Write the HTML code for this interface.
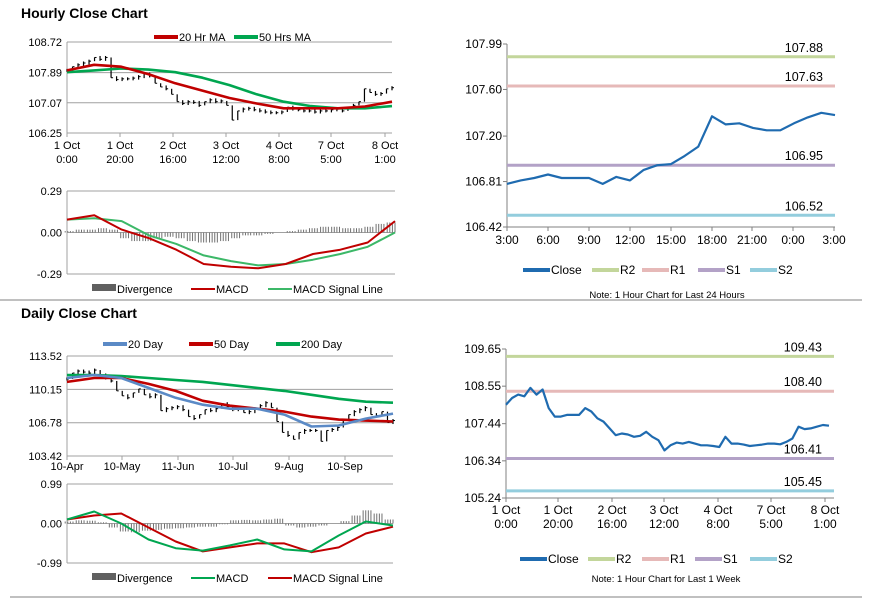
<!DOCTYPE html>
<html><head><meta charset="utf-8"><style>
body{margin:0;background:#fff;width:873px;height:601px;overflow:hidden}
svg{font-family:"Liberation Sans",Arial,sans-serif;}
</style></head><body>
<svg id="c" width="873" height="601"></svg>
<script>
// ---- data ----
const hClose=[107.95,108.05,108.1,108.15,108.2,108.3,108.25,108.3,107.75,107.7,107.72,107.72,107.74,107.78,107.85,107.8,107.6,107.5,107.45,107.3,107.1,107.05,107.1,107.08,107.0,107.1,107.15,107.1,107.12,107.0,106.6,106.85,106.9,106.92,106.88,106.85,106.82,106.8,106.8,106.82,106.95,106.9,106.88,106.85,106.85,106.82,106.85,106.85,106.88,106.9,106.85,106.95,107.0,107.1,107.45,107.35,107.3,107.32,107.45,107.48];
const hMA20=[107.95,108.1,108.05,107.85,107.6,107.4,107.2,107.05,106.92,106.92,106.92,106.97,107.1];
const hMA50=[107.9,107.95,108.0,107.97,107.9,107.75,107.55,107.3,107.1,106.98,106.92,106.92,106.98];
const hYTicks=[108.72,107.89,107.07,106.25];
const hXLabels=[["1 Oct","0:00"],["1 Oct","20:00"],["2 Oct","16:00"],["3 Oct","12:00"],["4 Oct","8:00"],["7 Oct","5:00"],["8 Oct","1:00"]];
const hMacd=[0.09,0.12,0.02,-0.04,-0.12,-0.22,-0.24,-0.25,-0.22,-0.15,-0.12,-0.07,0.08];
const hSignal=[0.09,0.1,0.08,-0.02,-0.08,-0.16,-0.2,-0.23,-0.22,-0.19,-0.15,-0.1,0.0];
const hDiv=[0.01,0.02,0.02,0.03,0.02,-0.04,-0.06,-0.06,-0.04,-0.03,-0.04,-0.06,-0.07,-0.07,-0.06,-0.04,-0.02,-0.02,-0.01,0.0,0.01,0.02,0.03,0.04,0.04,0.03,0.03,0.04,0.06,0.07];
const macdTicksH=[0.29,0.00,-0.29];

const dClose=[111.2,111.8,112.0,111.9,111.8,112.1,111.6,111.3,111.0,110.0,109.5,109.3,109.8,110.2,109.6,109.4,109.6,108.0,108.2,108.3,108.4,108.1,107.4,107.2,107.6,108.1,108.0,108.2,108.7,108.4,108.1,108.2,107.8,107.9,108.2,108.5,108.8,108.3,106.9,105.8,105.5,105.1,105.8,106.0,106.0,106.0,104.9,106.0,106.1,106.3,107.0,107.6,107.9,108.1,108.3,107.6,107.5,107.9,106.8,107.0];
const d20=[111.3,111.6,111.3,110.3,109.3,108.6,108.2,108.2,107.6,106.4,106.5,107.2,107.7];
const d50=[110.9,111.3,111.3,110.7,110.0,109.0,108.5,108.2,107.9,107.4,107.1,107.0,106.9];
const d200=[111.6,111.6,111.5,111.3,111.1,110.9,110.6,110.3,110.0,109.6,109.2,108.9,108.8];
const dYTicks=[113.52,110.15,106.78,103.42];
const dXLabels=["10-Apr","10-May","11-Jun","10-Jul","9-Aug","10-Sep"];
const dMacd=[0.1,0.3,0.0,-0.4,-0.62,-0.68,-0.55,-0.4,-0.65,-0.7,-0.3,0.05,-0.05];
const dSignal=[0.1,0.2,0.25,-0.1,-0.45,-0.7,-0.6,-0.5,-0.5,-0.72,-0.6,-0.25,-0.08];
const dDiv=[0.05,0.08,0.07,0.03,-0.1,-0.2,-0.22,-0.18,-0.16,-0.13,-0.12,-0.1,-0.08,-0.08,-0.02,0.08,0.09,0.08,0.1,0.12,-0.05,-0.1,-0.08,-0.05,0.0,0.06,0.2,0.33,0.25,0.1];
const macdTicksD=[0.99,0.00,-0.99];

const r24Close=[106.79,106.82,106.84,106.87,106.84,106.84,106.84,106.79,106.85,106.82,106.91,106.95,106.96,107.03,107.11,107.37,107.30,107.31,107.27,107.25,107.25,107.31,107.36,107.40,107.38];
const r24Levels=[107.88,107.63,106.95,106.52];
const r24YTicks=[107.99,107.60,107.20,106.81,106.42];
const r24XLabels=["3:00","6:00","9:00","12:00","15:00","18:00","21:00","0:00","3:00"];

const rWClose=[108.0,108.2,108.3,108.25,108.5,108.3,108.45,107.9,107.65,107.65,107.7,107.7,107.7,107.9,107.8,107.6,107.5,107.3,107.1,107.15,107.12,107.05,107.08,107.2,107.05,106.95,106.65,106.8,106.88,106.85,106.9,106.85,106.8,106.8,106.78,106.75,107.05,106.85,106.85,106.82,106.78,106.8,106.82,106.85,106.85,106.83,106.9,107.0,107.35,107.28,107.3,107.35,107.4,107.38];
const rWLevels=[109.43,108.40,106.41,105.45];
const rWYTicks=[109.65,108.55,107.44,106.34,105.24];
const levelNames=["r2","r1","s1","s2"];
const levelColors=["#c3d69b","#e6b9b8","#b3a2c7","#93cddd"];

// ---- helpers ----
const svg=document.getElementById('c');
const NS="http://www.w3.org/2000/svg";
function el(tag,attrs,parent){const e=document.createElementNS(NS,tag);for(const k in attrs)e.setAttribute(k,attrs[k]);(parent||svg).appendChild(e);return e;}
function txt(x,y,s,size,anchor,parent,weight){const t=el('text',{x:x,y:y,'font-size':size,'text-anchor':anchor||'start',fill:'#000'},parent);if(weight)t.setAttribute('font-weight',weight);t.textContent=s;return t;}
function scale(d0,d1,r0,r1){return v=>r0+(v-d0)*(r1-r0)/(d1-d0);}
function xi(n,x0,x1){return i=>x0+i*(x1-x0)/(n-1);}
function line(arr,X,Y,color,w,name,parent){
  const g=el('path',{d:arr.map((v,i)=>(i?'L':'M')+X(i).toFixed(1)+','+Y(v).toFixed(1)).join(''),fill:'none',stroke:color,'stroke-width':w,'stroke-linejoin':'round'},parent);
  
  
  return g;
}
function group(name){const g=el('g',{});return g;}
function legendItem(g,x,y,color,label,w,name,len,fs){
  const s=el('g',{},g);
  
  
  len=len||24;
  el('line',{x1:x,y1:y-4,x2:x+len,y2:y-4,stroke:color,'stroke-width':w},s);
  txt(x+len+1,y,label,fs||11,'start',s);
}

// dividers & titles
el('line',{x1:0,y1:300,x2:862,y2:300,stroke:'#808080','stroke-width':1});
el('line',{x1:10,y1:597,x2:862,y2:597,stroke:'#808080','stroke-width':1});
let tg=group('hourly-title');txt(21,18,'Hourly Close Chart',14,'start',tg,'bold');
tg=group('daily-title');txt(21,318,'Daily Close Chart',14,'start',tg,'bold');

function pricePanel(name,close,mas,yT,x0,x1,yTop,yBot,tickXs,xLabels,twoLine,legend,legendY){
  const g=group(name);
  const Y=scale(yT[0],yT[yT.length-1],yTop,yBot);
  yT.forEach(v=>{el('line',{x1:x0,y1:Y(v),x2:x1,y2:Y(v),stroke:'#a0a0a0','stroke-width':1},g);txt(x0-5,Y(v)+4,v.toFixed(2),11,'end',g);});
  el('line',{x1:x0,y1:yTop,x2:x0,y2:yBot,stroke:'#a0a0a0'},g);
  tickXs.forEach((tx,i)=>{el('line',{x1:tx,y1:yBot,x2:tx,y2:yBot+4,stroke:'#a0a0a0'},g);
    if(twoLine){txt(tx,yBot+16,xLabels[i][0],11,'middle',g);txt(tx,yBot+30,xLabels[i][1],11,'middle',g);}
    else txt(tx,yBot+14,xLabels[i],11,'middle',g);});
  const X=xi(close.length,x0,x1);
  const bars=el('g',{},g);
  
  
  close.forEach((v,i)=>{const p=i?close[i-1]:v;let a=Y(Math.max(v,p)),b=Y(Math.min(v,p));if(b-a<3){a-=1.5;b+=1.5;}
    el('line',{x1:X(i),y1:a,x2:X(i),y2:b,stroke:'#000','stroke-width':1.2},bars);
    el('line',{x1:X(i),y1:Y(v),x2:X(i)+2,y2:Y(v),stroke:'#000','stroke-width':1},bars);});
  mas.forEach(m=>line(m.d,xi(m.d.length,x0,x1),Y,m.c,2.6,m.n,g));
  const lg=group(name+'-legend');
  legend.forEach(l=>legendItem(lg,l.x,legendY,l.c,l.t,4,l.n));
}
function macdPanel(name,macd,sig,div,yT,x0,x1,yTop,yBot,cols,legend,legendY){
  const g=group(name);
  const Y=scale(yT[0],yT[2],yTop,yBot);
  yT.forEach(v=>{el('line',{x1:x0,y1:Y(v),x2:x1,y2:Y(v),stroke:'#a0a0a0'},g);txt(x0-5,Y(v)+4,v.toFixed(2),11,'end',g);});
  el('line',{x1:x0,y1:yTop,x2:x0,y2:yBot,stroke:'#a0a0a0'},g);
  const XD=xi(div.length,x0+6,x1);
  div.forEach((v,i)=>{for(let k=0;k<4;k++){const xx=XD(i)-k*2.6;
    el('line',{x1:xx,y1:Y(0),x2:xx,y2:Y(v),stroke:'#707070','stroke-width':1},g);}});
  line(sig,xi(sig.length,x0,x1),Y,cols[1],2,'signal-line',g);
  line(macd,xi(macd.length,x0,x1),Y,cols[0],2,'macd-line',g);
  const lg=group(name+'-legend');
  el('rect',{x:legend[0],y:legendY-9,width:24,height:7,fill:'#606060'},lg);
  txt(legend[0]+25,legendY,'Divergence',11,'start',lg);
  legendItem(lg,legend[1],legendY,cols[0],'MACD',2,'legend-macd');
  legendItem(lg,legend[2],legendY,cols[1],legend[3],2,'legend-signal');
}
function levelPanel(name,close,levels,yT,x0,x1,xEnd,yTop,yBot,tickXs,xLabels,twoLine,legendY,legendOff,note,noteY){
  const g=group(name);
  const Y=scale(yT[0],yT[yT.length-1],yTop,yBot);
  yT.forEach(v=>txt(x0-5,Y(v)+4,v.toFixed(2),12,'end',g));
  el('line',{x1:x0,y1:yTop,x2:x0,y2:yBot,stroke:'#808080'},g);
  el('line',{x1:x0,y1:yBot,x2:x1,y2:yBot,stroke:'#808080'},g);
  yT.forEach(v=>el('line',{x1:x0-4,y1:Y(v),x2:x0,y2:Y(v),stroke:'#808080'},g));
  tickXs.forEach((tx,i)=>{el('line',{x1:tx,y1:yBot,x2:tx,y2:yBot+4,stroke:'#808080'},g);
    if(twoLine){txt(tx,yBot+16,xLabels[i][0],12,'middle',g);txt(tx,yBot+30,xLabels[i][1],12,'middle',g);}
    else txt(tx,yBot+17,xLabels[i],12,'middle',g);});
  levels.forEach((v,i)=>{line([v,v],xi(2,x0,x1),Y,levelColors[i],3,'level-'+levelNames[i],g);
    txt(x1-12,Y(v)-5,v.toFixed(2),12.5,'end',g);});
  line(close,xi(close.length,x0,xEnd),Y,'#1f6bb0',2.2,'close-line',g);
  const lg=group(name+'-legend');
  const names=['Close','R2','R1','S1','S2'];const cs=['#1f6bb0'].concat(levelColors);
  names.forEach((n,i)=>legendItem(lg,x0+legendOff[i],legendY,cs[i],n,4,'legend-'+n.toLowerCase(),27,12));
  const ng=group(name+'-note');txt((x0+x1)/2-4,noteY,note,9.5,'middle',ng);
}

const hTicks=[67,120,173,226,279,331,385];
pricePanel('hourly-price-chart',hClose,[{d:hMA50,c:'#00a650',n:'ma50-line'},{d:hMA20,c:'#c00000',n:'ma20-line'}],hYTicks,67,392,42,133,hTicks,hXLabels,true,
  [{x:154,c:'#c00000',t:'20 Hr MA',n:'legend-ma20'},{x:234,c:'#00a650',t:'50 Hrs MA',n:'legend-ma50'}],41);
macdPanel('hourly-macd-chart',hMacd,hSignal,hDiv,macdTicksH,67,395,191,274,['#c00000','#3cb868'],[92,191,268,'MACD Signal Line'],293);
pricePanel('daily-price-chart',dClose,[{d:d200,c:'#00a650',n:'ma200-line'},{d:d50,c:'#c00000',n:'ma50-line'},{d:d20,c:'#5b8ac6',n:'ma20-line'}],dYTicks,67,393,356,456,[67,122,178,233,289,345],dXLabels,false,
  [{x:103,c:'#5b8ac6',t:'20 Day',n:'legend-20day'},{x:189,c:'#c00000',t:'50 Day',n:'legend-50day'},{x:276,c:'#00a650',t:'200 Day',n:'legend-200day'}],348);
macdPanel('daily-macd-chart',dMacd,dSignal,dDiv,macdTicksD,67,393,484,563,['#00a650','#c00000'],[92,191,268,'MACD Signal Line'],582);
levelPanel('hourly-24h-levels-chart',r24Close,r24Levels,r24YTicks,507,835,835,44,227,[507,548,589,630,671,712,752,793,834],r24XLabels,false,274,[16,85,135,191,243],'Note: 1 Hour Chart for Last 24 Hours',298);
levelPanel('weekly-levels-chart',rWClose,rWLevels,rWYTicks,506,834,829,349,498,[506,558,612,664,718,771,825],hXLabels,true,563,[14,82,136,189,244],'Note: 1 Hour Chart for Last 1 Week',582);
</script>
</body></html>
